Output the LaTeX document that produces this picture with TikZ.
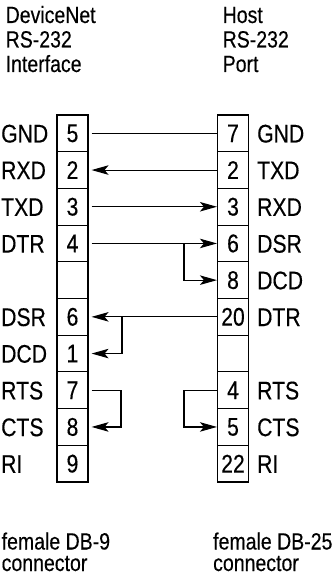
\documentclass[tikz,border=0pt]{standalone}
\usepackage{fontspec}
\setmainfont{Liberation Sans}[FakeStretch=0.83,FakeBold=0.3]
\usetikzlibrary{arrows.meta}
\begin{document}
\begin{tikzpicture}[x=1pt,y=-1pt,
  cell/.style={draw, line width=1.1pt, minimum width=31pt, minimum height=36.7pt, inner sep=0pt, font=\fontsize{25.5}{28}\selectfont},
  lab/.style={anchor=base west, inner sep=0pt, font=\fontsize{25.5}{28}\selectfont},
  hdr/.style={anchor=base west, inner sep=0pt, font=\fontsize{23.5}{26}\selectfont},
  wire/.style={line width=1.1pt},
  arr/.style={wire, -{Stealth[length=17pt,width=9.5pt,inset=4pt]}}]
\useasboundingbox (0,0) rectangle (334,575);
% headers
\node[hdr] (h1) at (5.5,23) {DeviceNet};
\node[hdr] (h2) at (5.5,47.5) {RS-232};
\node[hdr] (h3) at (5.5,72) {Interface};
\node[hdr] (h4) at (222.5,23) {Host};
\node[hdr] (h5) at (222.5,47.5) {RS-232};
\node[hdr] (h6) at (222.5,72) {Port};
% left connector cells
\node[cell] (L0) at (72.5,133.35) {5};
\node[cell] (L1) at (72.5,170.05) {2};
\node[cell] (L2) at (72.5,206.75) {3};
\node[cell] (L3) at (72.5,243.45) {4};
\node[cell] (L4) at (72.5,280.15) {};
\node[cell] (L5) at (72.5,316.85) {6};
\node[cell] (L6) at (72.5,353.55) {1};
\node[cell] (L7) at (72.5,390.25) {7};
\node[cell] (L8) at (72.5,426.95) {8};
\node[cell] (L9) at (72.5,463.65) {9};
% right connector cells
\node[cell] (R0) at (233,133.35) {7};
\node[cell] (R1) at (233,170.05) {2};
\node[cell] (R2) at (233,206.75) {3};
\node[cell] (R3) at (233,243.45) {6};
\node[cell] (R4) at (233,280.15) {8};
\node[cell] (R5) at (233,316.85) {20};
\node[cell] (R6) at (233,353.55) {};
\node[cell] (R7) at (233,390.25) {4};
\node[cell] (R8) at (233,426.95) {5};
\node[cell] (R9) at (233,463.65) {22};
% left labels
\node[lab] (lg) at (1,142.5) {GND};
\node[lab] (lr) at (1,179.2) {RXD};
\node[lab] (lt) at (1,215.9) {TXD};
\node[lab] (ld) at (1,252.6) {DTR};
\node[lab] (ls) at (1,326) {DSR};
\node[lab] (lc) at (1,362.7) {DCD};
\node[lab] (lrt) at (1,399.4) {RTS};
\node[lab] (lct) at (1,436.1) {CTS};
\node[lab] (lri) at (1,472.8) {RI};
% right labels
\node[lab] (rg) at (257,142.5) {GND};
\node[lab] (rt) at (257,179.2) {TXD};
\node[lab] (rr) at (257,215.9) {RXD};
\node[lab] (rs) at (257,252.6) {DSR};
\node[lab] (rc) at (257,289.3) {DCD};
\node[lab] (rd) at (257,326) {DTR};
\node[lab] (rrt) at (257,399.4) {RTS};
\node[lab] (rct) at (257,436.1) {CTS};
\node[lab] (rri) at (257,472.8) {RI};
% footers
\node[hdr] (f1) at (1.5,549.5) {female DB-9};
\node[hdr] (f2) at (1.5,571) {connector};
\node[hdr] (f3) at (213,549.5) {female DB-25};
\node[hdr] (f4) at (213,571) {connector};
% wiring
\draw[wire] ([xshift=3pt]L0.east) -- (R0.west);
\draw[arr] (R1.west) -- ([xshift=3pt]L1.east);
\draw[arr] ([xshift=3pt]L2.east) -- (R2.west);
\draw[arr] ([xshift=3pt]L3.east) -- (R3.west);
\coordinate (ba) at (184,243.45);
\draw[arr] (ba) |- (R4.west);
\draw[arr] (R5.west) -- ([xshift=3pt]L5.east);
\coordinate (bb) at (122,316.85);
\draw[arr] (bb) |- ([xshift=3pt]L6.east);
\coordinate (lb) at (121,390.25);
\draw[arr] ([xshift=3pt]L7.east) -- (lb) |- ([xshift=3pt]L8.east);
\coordinate (rb) at (184,390.25);
\draw[arr] (R7.west) -- (rb) |- (R8.west);
\end{tikzpicture}
\end{document}
